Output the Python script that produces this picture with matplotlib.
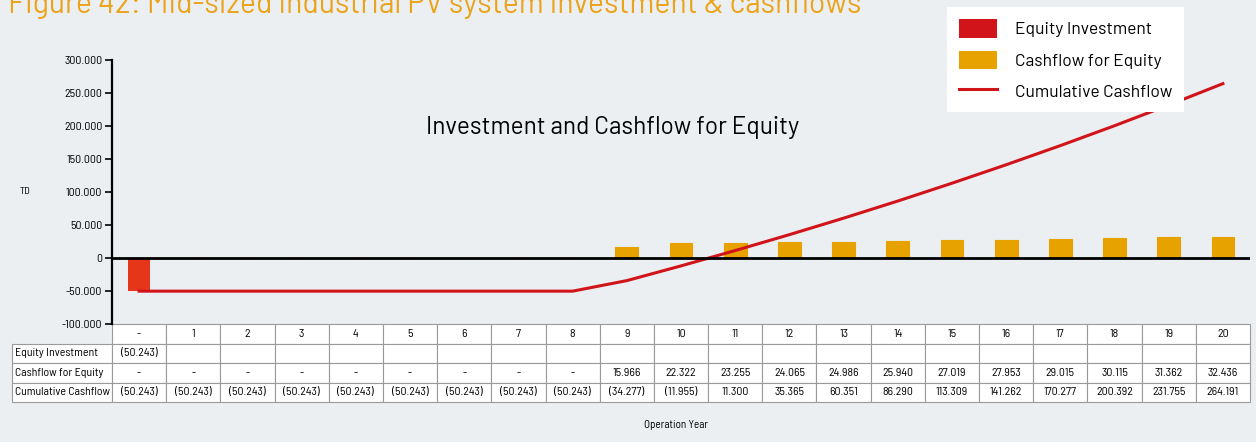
import matplotlib
matplotlib.use("Agg")
import matplotlib.pyplot as plt
from matplotlib.patches import Patch
from matplotlib.lines import Line2D
from matplotlib.table import Table
from matplotlib.ticker import FuncFormatter

plt.rcParams['font.family'] = ['Barlow', 'DejaVu Sans']
NARROW = ['Barlow Semi Condensed', 'DejaVu Sans']

# Operation years (year 0 = investment year)
years = list(range(21))
year_labels = ['-'] + [str(y) for y in range(1, 21)]

equity_investment = [-50243] + [None] * 20
cashflow_equity = [0, 0, 0, 0, 0, 0, 0, 0, 0,
                   15966, 22322, 23255, 24065, 24986, 25940,
                   27019, 27953, 29015, 30115, 31362, 32436]
cumulative_cashflow = [-50243, -50243, -50243, -50243, -50243, -50243,
                       -50243, -50243, -50243, -34277, -11955, 11300,
                       35365, 60351, 86290, 113309, 141262, 170277,
                       200392, 231755, 264191]
row_labels = ['Equity Investment', 'Cashflow for Equity', 'Cumulative Cashflow']

BG = '#EBEFF2'
RED_BAR = '#E5361A'
RED = '#D0141A'
ORANGE = '#E8A200'


def fmt(v):
    if v is None:
        return ''
    if v == 0:
        return '-'
    s = f"{abs(v):,}".replace(',', '.')
    return f"({s})" if v < 0 else s


fig = plt.figure(figsize=(12.56, 4.42), dpi=100, facecolor=BG)
ax = fig.add_axes([112 / 1256, 1 - 324 / 442, 1138 / 1256, 264 / 442])
ax.set_facecolor(BG)

# bars and cumulative line
eq_vals = [v if v is not None else 0 for v in equity_investment]
ax.bar(years, cashflow_equity, width=0.42, color=ORANGE, edgecolor=ORANGE,
       linewidth=0.8, zorder=2)
ax.bar(years, eq_vals, width=0.42, color=RED_BAR, linewidth=0, zorder=3)
ax.plot(years, cumulative_cashflow, color=RED, lw=2.2, zorder=4)
ax.axhline(0, color='black', lw=2, zorder=5)

ax.set_xlim(-0.5, 20.5)
ax.set_ylim(-100000, 300000)
ax.set_yticks(range(-100000, 300001, 50000))
ax.yaxis.set_major_formatter(FuncFormatter(lambda v, p: f"{v:,.0f}".replace(',', '.')))
ax.tick_params(axis='y', direction='out', length=5, width=1.2, labelsize=8.5, pad=2)
for lab in ax.get_yticklabels():
    lab.set_family(NARROW)
ax.set_xticks([])
for s in ['top', 'right', 'bottom']:
    ax.spines[s].set_visible(False)
ax.spines['left'].set_linewidth(1.6)

ax.text(0.440, 0.745, 'Investment and Cashflow for Equity', transform=ax.transAxes,
        ha='center', va='center', fontsize=17.5)

# data table under the chart
label_w = 100 / 1138
col_w = 1.0 / 21
row_h = 1.0 / 4
tbl = Table(ax, bbox=[0, -78 / 264, 1, 78 / 264])
rows = [equity_investment, cashflow_equity, cumulative_cashflow]
for c, lab in enumerate(year_labels):
    tbl.add_cell(0, c, col_w, row_h, text=lab, loc='center', facecolor='white')
for r, (lab, vals) in enumerate(zip(row_labels, rows), start=1):
    cell = tbl.add_cell(r, -1, label_w, row_h, text=lab, loc='left', facecolor='white')
    cell.PAD = 0.03
    for c, v in enumerate(vals):
        tbl.add_cell(r, c, col_w, row_h, text=fmt(v), loc='center', facecolor='white')
tbl.auto_set_font_size(False)
tbl.set_fontsize(8.5)
for cell in tbl.get_celld().values():
    cell.set_edgecolor('#9A9A9A')
    cell.set_linewidth(0.8)
    cell.get_text().set_family(NARROW)
ax.add_table(tbl)

fig.text(20 / 1256, 1 - 191 / 442, 'TD', fontsize=7.5, ha='left', va='center', family=NARROW)
fig.text(676 / 1256, 1 - 425 / 442, 'Operation Year', fontsize=8, ha='center',
         va='center', family=NARROW)
fig.text(8 / 1256, 1 - 13 / 442,
         'Figure 42: Mid-sized industrial PV system investment & cashflows',
         fontsize=21.7, color='#EBA31A', ha='left', va='baseline')

handles = [Patch(facecolor=RED, edgecolor='none'),
           Patch(facecolor=ORANGE, edgecolor='none'),
           Line2D([], [], color=RED, lw=2.2)]
leg = fig.legend(handles, ['Equity Investment', 'Cashflow for Equity', 'Cumulative Cashflow'],
                 loc='upper left', bbox_to_anchor=(947 / 1256, 1 - 7 / 442),
                 frameon=True, fancybox=False, fontsize=12.5, borderaxespad=0,
                 handlelength=2.2, handleheight=1.25, handletextpad=1.0,
                 labelspacing=0.75, borderpad=0.7)
leg.get_frame().set_facecolor('white')
leg.get_frame().set_edgecolor('none')
leg.get_frame().set_alpha(1)

fig.savefig('out.png', dpi=100, facecolor=BG)
